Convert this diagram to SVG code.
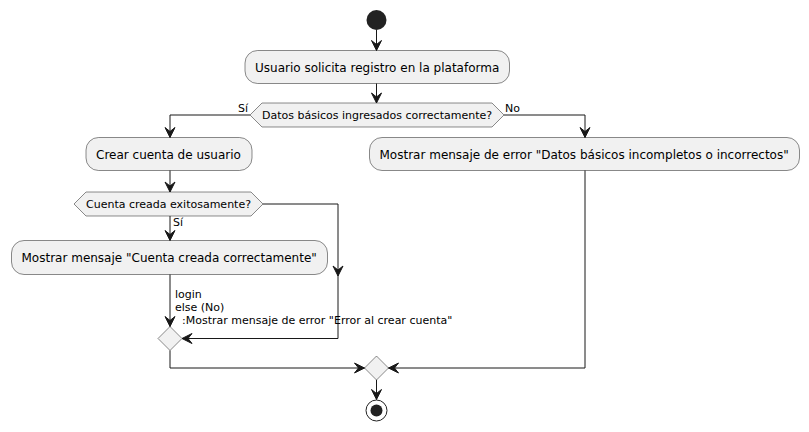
<svg xmlns="http://www.w3.org/2000/svg" width="809" height="432" viewBox="0 0 809 432">
<style>
.box{fill:#F1F1F1;stroke:#181818;stroke-width:0.5}
.t12{font-family:"DejaVu Sans",sans-serif;font-size:12px;fill:#000000}
.t11{font-family:"DejaVu Sans",sans-serif;font-size:11px;fill:#000000}
.ln{fill:none;stroke:#181818;stroke-width:1;marker-end:url(#ah)}
</style>
<defs>
<marker id="ah" markerUnits="userSpaceOnUse" orient="auto" markerWidth="12" markerHeight="12" refX="11" refY="6" viewBox="0 0 12 12" overflow="visible">
<path d="M11,6 L1,1 L5,6 L1,11 Z" fill="#181818" stroke="#181818" stroke-width="1"/>
</marker>
</defs>
<rect width="809" height="432" fill="#FFFFFF"/>
<g id="start"><circle cx="376.5" cy="20" r="10" fill="#222222"/></g>
<g id="registro"><rect class="box" x="245" y="50.5" width="264.5" height="33" rx="12.5"/><text class="t12" x="255" y="71.5">Usuario solicita registro en la plataforma</text></g>
<g id="datos"><polygon class="box" points="262,103 492,103 504,115 492,127 262,127 250,115"/><text class="t11" x="262" y="119">Datos básicos ingresados correctamente?</text></g>
<g id="crear"><rect class="box" x="86" y="137.5" width="166" height="33" rx="12.5"/><text class="t12" x="96" y="158.5">Crear cuenta de usuario</text></g>
<g id="errorDatos"><rect class="box" x="369.5" y="137.5" width="430" height="33" rx="12.5"/><text class="t12" x="379.5" y="158.5">Mostrar mensaje de error "Datos básicos incompletos o incorrectos"</text></g>
<g id="cuenta"><polygon class="box" points="86,192 251,192 263,204 251,216 86,216 74,204"/><text class="t11" x="86" y="208">Cuenta creada exitosamente?</text></g>
<g id="exito"><rect class="box" x="11.5" y="240.5" width="316" height="34" rx="12.5"/><text class="t12" x="21.5" y="262">Mostrar mensaje "Cuenta creada correctamente"</text></g>
<g id="merge1"><polygon class="box" points="170,326.5 182,338.5 170,350.5 158,338.5"/></g>
<g id="merge2"><polygon class="box" points="376.5,356 388.5,368 376.5,380 364.5,368"/></g>
<g id="end"><circle cx="376.5" cy="410.5" r="10.5" fill="none" stroke="#222222" stroke-width="1"/><circle cx="376.5" cy="410.5" r="6" fill="#222222"/></g>
<g id="connectors">
<path class="ln" d="M376.5,30 L376.5,50.5"/>
<path class="ln" d="M376.5,83.5 L376.5,103"/>
<path class="ln" d="M250,115 L170,115 L170,137.5"/>
<path class="ln" d="M504,115 L585,115 L585,137.5"/>
<path class="ln" d="M170,170.5 L170,192"/>
<path class="ln" d="M170,216 L170,240.5"/>
<path class="ln" d="M263,204 L338,204 L338,276"/>
<path class="ln" d="M338,276 L338,338.5 L182,338.5"/>
<path class="ln" d="M170,274.5 L170,326.5"/>
<path class="ln" d="M170,350.5 L170,368 L364.5,368"/>
<path class="ln" d="M585,170.5 L585,368 L388.5,368"/>
<path class="ln" d="M376.5,380 L376.5,399.5"/>
<text class="t11" x="238" y="112">Sí</text>
<text class="t11" x="505" y="112">No</text>
<text class="t11" x="173" y="226">Sí</text>
<text class="t11" x="175" y="298">login</text>
<text class="t11" x="175" y="311">else (No)</text>
<text class="t11" x="182" y="324">:Mostrar mensaje de error "Error al crear cuenta"</text>
</g>
</svg>
